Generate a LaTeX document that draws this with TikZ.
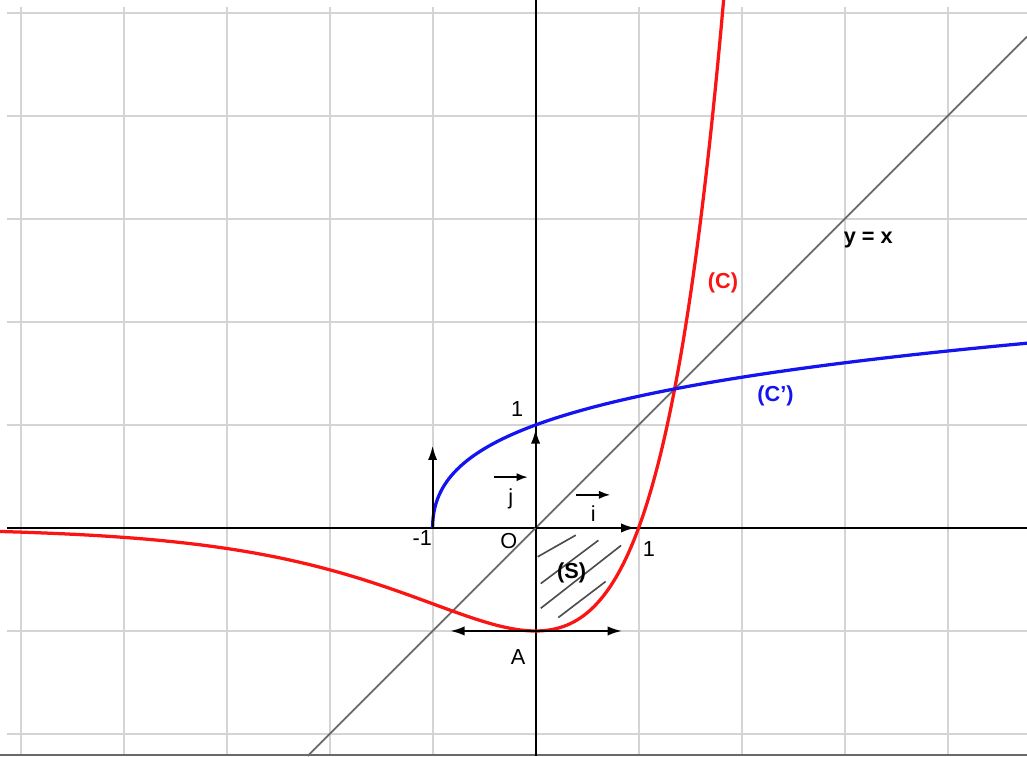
\documentclass[tikz,border=0pt]{standalone}
\usepackage{fontspec}
\setmainfont{Liberation Sans}
\usetikzlibrary{arrows.meta}
\definecolor{gridgray}{RGB}{212,212,212}
\definecolor{linegray}{RGB}{105,105,105}
\definecolor{cred}{RGB}{250,20,20}
\definecolor{cblue}{RGB}{20,20,240}
\newcommand{\vlab}[1]{\shortstack{\tikz\draw[-{Latex[length=1.1mm,width=0.8mm]},line width=0.5pt] (0,0) -- (0.33,0);\\[-1pt]#1}}

\begin{document}
\begin{tikzpicture}[
  gridline/.style={gridgray,line width=0.6pt},
  axis/.style={black,line width=0.5pt},
  diag/.style={linegray,line width=0.5pt},
  hatch/.style={black!70,line width=0.45pt},
  curve/.style={line width=0.9pt},
  vec/.style={-{Latex[length=1.4mm,width=0.9mm]},black,line width=0.6pt},
  dvec/.style={{Latex[length=1.4mm,width=0.9mm]}-{Latex[length=1.4mm,width=0.9mm]},black,line width=0.6pt},
  lbl/.style={font=\fontsize{6}{7}\selectfont,inner sep=1pt},
  bold/.style={font=\fontsize{6}{7}\selectfont\bfseries,inner sep=1pt}
]
  \useasboundingbox (-5.2,-2.214) rectangle (4.771,5.126);
  \clip (-5.2,-2.214) rectangle (4.771,5.126);

  % grid and axes
  \draw[gridline] (-5.13,-2.214) grid (4.771,5.06);
  \draw[diag] (-5.2,-2.205) -- (4.771,-2.205);
  \draw[axis] (-5.13,0) -- (4.771,0);
  \draw[axis] (0,-2.214) -- (0,5.126);
  \draw[diag] (-2.214,-2.214) -- (4.771,4.771);

  % (S)
  \draw[hatch] (0.02,-0.28) -- (0.39,-0.07);
  \draw[hatch] (0.05,-0.54) -- (0.61,-0.12);
  \draw[hatch] (0.05,-0.78) -- (0.83,-0.17);
  \draw[hatch] (0.22,-0.87) -- (0.68,-0.52);

  % (C) and (C')
  \draw[curve,cred] plot[domain=-5.2:1.83,samples=160,smooth] (\x,{(\x-1)*exp(\x)});
  \draw[curve,cblue] plot[variable=\t,domain=0:1.8,samples=90,smooth] ({(\t-1)*exp(\t)},\t);

  \coordinate (O)  at (0,0);
  \coordinate (I)  at (0.97,0);
  \coordinate (J)  at (0,0.96);
  \coordinate (M)  at (-1,0);
  \coordinate (Mt) at (-1,0.8);
  \coordinate (Al) at (-0.83,-1);
  \coordinate (Ar) at (0.84,-1);

  \draw[vec]  (O)  -- (I);
  \draw[vec]  (O)  -- (J);
  \draw[vec]  (M)  -- (Mt);
  \draw[dvec] (Al) -- (Ar);

  \node[lbl] (yone)  at (-0.18,1.15) {1};
  \node[lbl] (xmone) at (-1.1,-0.1)  {-1};
  \node[lbl] (orig)  at (-0.26,-0.13) {O};
  \node[lbl] (xone)  at (1.1,-0.2)   {1};
  \node[lbl] (lA)    at (-0.17,-1.25) {A};
  \node[lbl] (lj)    at (-0.24,0.36) {\vlab{j}};
  \node[lbl] (li)    at (0.56,0.21)  {\vlab{i}};

  \node[bold,cred]  (lC)  at (1.82,2.38) {(C)};
  \node[bold,cblue] (lCp) at (2.33,1.28) {(C')};
  \node[bold]       (lyx) at (3.23,2.8)  {y = x};
  \node[bold]       (lS)  at (0.35,-0.44) {(S)};
\end{tikzpicture}
\end{document}
